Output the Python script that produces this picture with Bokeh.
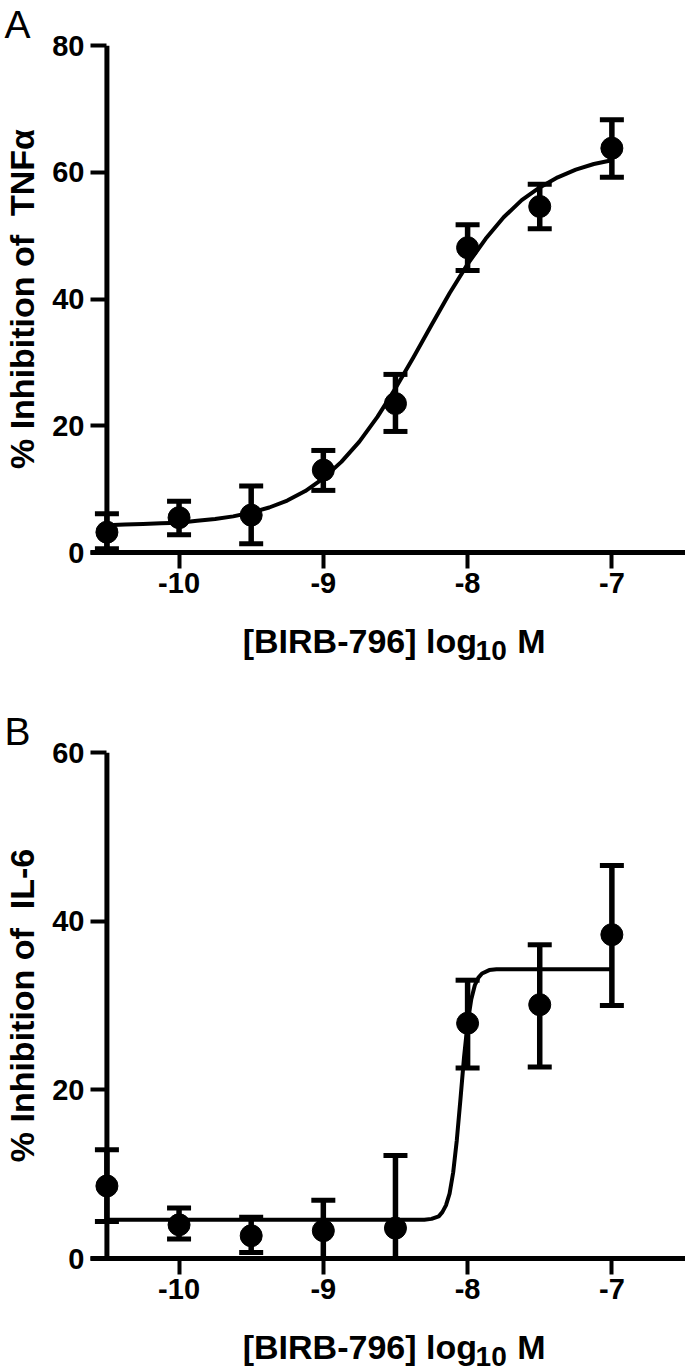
from bokeh.plotting import figure
from bokeh.models import (Range1d, FixedTicker, Whisker, TeeHead, ColumnDataSource,
                          Label, Span)
from bokeh.layouts import column
from bokeh.embed import file_html
from bokeh.resources import INLINE

# ---------------- data ----------------
log_conc = [-10.5, -10.0, -9.5, -9.0, -8.5, -8.0, -7.5, -7.0]

tnf_mean = [3.2, 5.5, 5.9, 13.0, 23.5, 48.1, 54.6, 63.8]
tnf_low = [0.6, 2.8, 1.4, 9.8, 19.1, 44.5, 51.1, 59.2]
tnf_high = [6.1, 8.1, 10.5, 16.1, 28.1, 51.7, 58.1, 68.3]

il6_mean = [8.6, 4.0, 2.7, 3.3, 3.6, 27.9, 30.1, 38.4]
il6_low = [4.4, 2.3, 0.7, 0.0, 0.0, 22.6, 22.7, 30.0]
il6_high = [12.9, 6.0, 4.9, 6.9, 12.2, 33.0, 37.2, 46.6]

# fitted curves
tnf_fit_x = [-10.5, -10.375, -10.25, -10.125, -10.0, -9.875, -9.75, -9.625, -9.5,
             -9.375, -9.25, -9.125, -9.0, -8.875, -8.75, -8.625, -8.5, -8.375,
             -8.25, -8.125, -8.0, -7.875, -7.75, -7.625, -7.5, -7.375, -7.25,
             -7.125, -7.0]
tnf_fit_y = [4.3, 4.4, 4.5, 4.6, 4.7, 5.0, 5.3, 5.7, 6.3,
             7.1, 8.2, 9.7, 11.7, 14.3, 17.5, 21.4, 25.9, 30.8,
             35.9, 40.9, 45.5, 49.5, 52.9, 55.6, 57.6, 59.2, 60.4,
             61.3, 61.9]

il6_fit_x = [-10.5, -9.5, -8.5, -8.3, -8.25, -8.2, -8.175, -8.15, -8.125, -8.1,
             -8.075, -8.05, -8.025, -8.0, -7.975, -7.95, -7.925, -7.9, -7.85,
             -7.8, -7.7, -7.0]
il6_fit_y = [4.6, 4.6, 4.6, 4.6, 4.7, 5.0, 5.5, 6.3, 7.7, 10.2,
             14.0, 18.8, 23.8, 27.9, 30.7, 32.4, 33.3, 33.8, 34.2,
             34.3, 34.3, 34.3]

x_ticks = [-10, -9, -8, -7]
x_tick_labels = ["-10", "-9", "-8", "-7"]
tnf_y_ticks = [0, 20, 40, 60, 80]
il6_y_ticks = [0, 20, 40, 60]

x_title = ["[BIRB-796] log", "10", "M"]
tnf_y_title = "% Inhibition of \u00a0TNF\u03b1"
il6_y_title = "% Inhibition of \u00a0IL-6"

# ---------------- layout ----------------
FONT = "Liberation Sans"
W = 685
PX_PER_X = 145.0          # px per log unit
AXIS_X = 103.5            # canvas x of the y axis line
FRAME_LEFT = 87
FRAME_W = W - FRAME_LEFT
X0 = log_conc[0] - (AXIS_X - FRAME_LEFT) / PX_PER_X
X1 = X0 + FRAME_W / PX_PER_X


def xp(canvas_x):
    """data x for a canvas pixel column (shared by all frames of the column)"""
    return X0 + (canvas_x - FRAME_LEFT) / PX_PER_X


def make_panel(top, frame_h, bottom, ymax, yticks, mean, low, high,
               fit_x, fit_y, ytitle, letter):
    p = figure(width=W, height=top + frame_h + bottom, output_backend="svg",
               toolbar_location=None, title=letter,
               x_range=Range1d(X0, X1), y_range=Range1d(0, ymax),
               min_border_left=FRAME_LEFT, min_border_right=0,
               min_border_top=top, min_border_bottom=bottom)
    p.outline_line_color = None
    p.grid.visible = False
    p.background_fill_color = "white"
    p.border_fill_color = "white"

    t = p.title
    t.text_font = FONT
    t.text_font_size = "39px"
    t.text_font_style = "normal"
    t.text_color = "black"
    t.text_line_height = 1.0
    t.align = "left"
    t.offset = 1 - FRAME_LEFT
    t.standoff = 0
    t.vertical_align = "bottom"

    for ax in (p.xaxis[0], p.yaxis[0]):
        ax.axis_line_width = 5
        ax.axis_line_color = "black"
        ax.major_tick_line_width = 4
        ax.major_tick_line_color = "black"
        ax.minor_tick_line_color = None
        ax.major_label_text_font = FONT
        ax.major_label_text_font_style = "bold"
        ax.major_label_text_font_size = "29px"
        ax.major_label_text_color = "black"

    xa = p.xaxis[0]
    xa.ticker = FixedTicker(ticks=x_ticks)
    xa.major_label_overrides = {t_: s for t_, s in zip(x_ticks, x_tick_labels)}
    xa.major_tick_in = 0
    xa.major_tick_out = 16
    xa.major_label_standoff = 4

    ya = p.yaxis[0]
    ya.ticker = FixedTicker(ticks=yticks)
    ya.major_label_overrides = {t_: str(t_) for t_ in yticks}
    ya.axis_line_color = None           # line drawn at x = -10.5 below
    ya.major_tick_in = int(round(AXIS_X - FRAME_LEFT))
    ya.major_tick_out = 0
    ya.major_label_standoff = 6
    ya.axis_label = ytitle
    ya.axis_label_text_font = FONT
    ya.axis_label_text_font_style = "bold"
    ya.axis_label_text_font_size = "34px"
    ya.axis_label_text_color = "black"
    ya.axis_label_standoff = 8

    p.add_layout(Span(location=log_conc[0], dimension="height",
                      line_width=5, line_color="black"))

    src = ColumnDataSource(dict(x=log_conc, y=mean, lo=low, hi=high))
    w = Whisker(base="x", lower="lo", upper="hi", source=src,
                line_width=5.5, line_color="black",
                upper_head=TeeHead(size=24, line_width=5, line_color="black"),
                lower_head=TeeHead(size=24, line_width=5, line_color="black"))
    p.add_layout(w)
    p.line(fit_x, fit_y, line_width=4, line_color="black", line_join="round")
    p.scatter("x", "y", source=src, size=22, color="black")
    return p


def title_strip(height, baseline):
    s = figure(width=W, height=height, output_backend="svg", toolbar_location=None,
               x_range=Range1d(X0, X1), y_range=Range1d(height, 0),
               x_axis_type=None, y_axis_type=None,
               min_border_left=FRAME_LEFT, min_border_right=0,
               min_border_top=0, min_border_bottom=0)
    s.outline_line_color = None
    s.grid.visible = False
    s.background_fill_color = "white"
    s.border_fill_color = "white"
    common = dict(text_font=FONT, text_font_style="bold", text_color="black",
                  text_align="left", text_baseline="alphabetic")
    s.add_layout(Label(x=xp(240), y=baseline, text=x_title[0],
                       text_font_size="34px", **common))
    s.add_layout(Label(x=xp(474), y=baseline + 10, text=x_title[1],
                       text_font_size="28px", **common))
    s.add_layout(Label(x=xp(516), y=baseline, text=x_title[2],
                       text_font_size="34px", **common))
    return s


pA = make_panel(45, 507, 58, 80, tnf_y_ticks, tnf_mean, tnf_low, tnf_high,
                tnf_fit_x, tnf_fit_y, tnf_y_title, "A")
sA = title_strip(56, 30)
pB = make_panel(86, 506, 58, 60, il6_y_ticks, il6_mean, il6_low, il6_high,
                il6_fit_x, il6_fit_y, il6_y_title, "B")
sB = title_strip(56, 30)

layout = column(pA, sA, pB, sB, spacing=0)
open("out.html", "w").write(file_html(layout, INLINE))
